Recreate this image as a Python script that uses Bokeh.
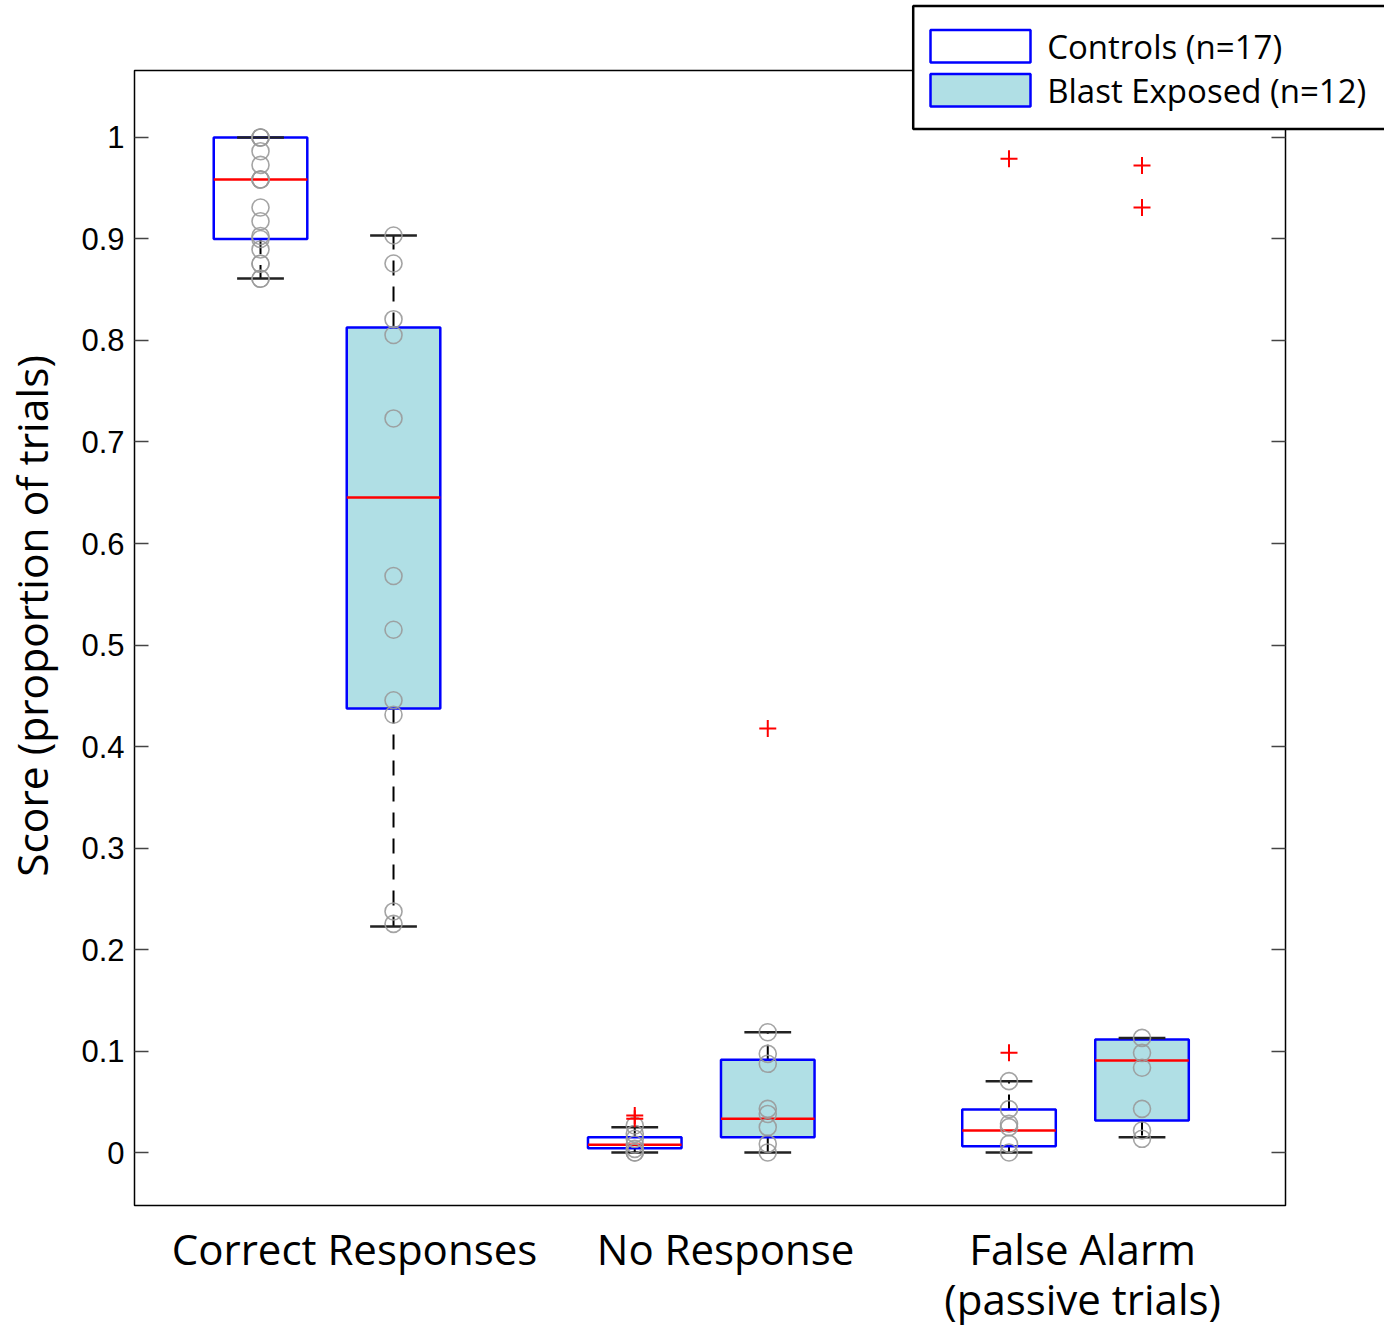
from bokeh.plotting import figure
from bokeh.models import (ColumnDataSource, Range1d, FixedTicker, LinearAxis,
                          CustomLabelingPolicy)
from bokeh.embed import file_html
from bokeh.resources import INLINE
from bokeh.core.properties import value

# ---------------- data ----------------
categories = ["Correct Responses", "No Response", "False Alarm\n(passive trials)"]
groups = ["Controls (n=17)", "Blast Exposed (n=12)"]
y_title = "Score (proportion of trials)"

ctrl_q1 = [0.900, 0.0042, 0.0062]
ctrl_med = [0.9586, 0.0076, 0.0217]
ctrl_q3 = [1.000, 0.0151, 0.0424]
ctrl_lo = [0.861, 0.0, 0.0]
ctrl_hi = [1.000, 0.0249, 0.0703]

blast_q1 = [0.4374, 0.0151, 0.0315]
blast_med = [0.6453, 0.0332, 0.0906]
blast_q3 = [0.8128, 0.0913, 0.1113]
blast_lo = [0.2227, 0.0, 0.0151]
blast_hi = [0.9034, 0.1185, 0.1129]

ctrl_pts_cr = [1.0, 1.0, 1.0, 0.9865, 0.973, 0.9586, 0.9586, 0.9586, 0.931,
               0.9175, 0.903, 0.900, 0.8897, 0.8756, 0.8756, 0.8608, 0.8608]
ctrl_pts_nr = [0.0266, 0.0184, 0.0135, 0.0079, 0.0036, 0.0, 0.0]
ctrl_pts_fa = [0.0703, 0.0427, 0.0283, 0.025, 0.0085, 0.0]

blast_pts_cr = [0.9034, 0.8759, 0.821, 0.8054, 0.7232, 0.568, 0.515, 0.4456,
                0.4313, 0.2375, 0.2253]
blast_pts_nr = [0.1185, 0.0972, 0.0874, 0.043, 0.038, 0.025, 0.0085, 0.0]
blast_pts_fa = [0.1129, 0.0982, 0.0835, 0.043, 0.0217, 0.0135]

ctrl_out_cat = [1, 1, 2, 2]
ctrl_out_val = [0.0364, 0.0332, 0.0982, 0.979]
blast_out_cat = [1, 2, 2]
blast_out_val = [0.4177, 0.9724, 0.931]

y_ticks = [0, 0.1, 0.2, 0.3, 0.4, 0.5, 0.6, 0.7, 0.8, 0.9, 1]

# ---------------- layout constants ----------------
group_x = [1.0, 2.0, 3.0]
label_x = [1.0735, 2.065, 3.019]
offset = 0.1777
box_w = 0.25
cap_w = 0.125

BLUE = "#0000FF"
FILL = "#B0DFE5"
FONT = "Open Sans"

p = figure(width=1384, height=1330, output_backend="svg", toolbar_location=None,
           x_range=Range1d(0.4856, 3.5611), y_range=Range1d(-0.0522, 1.066),
           min_border_left=134, min_border_right=99, min_border_top=70,
           min_border_bottom=125)
p.xgrid.visible = False
p.ygrid.visible = False
p.outline_line_color = "black"
p.outline_line_width = 1.5
p.background_fill_color = "white"
p.border_fill_color = "white"


def draw_group(sign, q1, med, q3, lo, hi, pts_lists, out_cat, out_val, fill):
    xs = [g + sign * offset for g in group_x]
    src = ColumnDataSource(dict(
        x=xs,
        left=[x - box_w / 2 for x in xs], right=[x + box_w / 2 for x in xs],
        cl=[x - cap_w / 2 for x in xs], cr=[x + cap_w / 2 for x in xs],
        q1=q1, med=med, q3=q3, lo=lo, hi=hi))
    # whiskers
    p.segment(x0="x", y0="q3", x1="x", y1="hi", source=src, line_color="black",
              line_width=2, line_dash="15 11")
    p.segment(x0="x", y0="q1", x1="x", y1="lo", source=src, line_color="black",
              line_width=2, line_dash="15 11")
    # boxes
    p.quad(left="left", right="right", bottom="q1", top="q3", source=src,
           fill_color=fill, line_color=BLUE, line_width=2.5)
    # medians
    p.segment(x0="left", y0="med", x1="right", y1="med", source=src,
              line_color="red", line_width=2.5)
    # caps
    p.segment(x0="cl", y0="hi", x1="cr", y1="hi", source=src, line_color="#222222",
              line_width=2.5)
    p.segment(x0="cl", y0="lo", x1="cr", y1="lo", source=src, line_color="#222222",
              line_width=2.5)
    # individual points
    px, py = [], []
    for x, vals in zip(xs, pts_lists):
        px += [x] * len(vals)
        py += vals
    p.scatter(px, py, marker="circle", size=17, fill_color=None,
              line_color="#9A9A9A", line_width=1.6, line_alpha=0.9)
    # outliers
    ox = [xs[c] for c in out_cat]
    p.scatter(ox, out_val, marker="cross", size=17, line_color="red", line_width=2)


draw_group(-1, ctrl_q1, ctrl_med, ctrl_q3, ctrl_lo, ctrl_hi,
           [ctrl_pts_cr, ctrl_pts_nr, ctrl_pts_fa], ctrl_out_cat, ctrl_out_val, "white")
draw_group(1, blast_q1, blast_med, blast_q3, blast_lo, blast_hi,
           [blast_pts_cr, blast_pts_nr, blast_pts_fa], blast_out_cat, blast_out_val, FILL)

# ---------------- axes ----------------
yax = p.yaxis[0]
yax.ticker = FixedTicker(ticks=y_ticks)
yax.major_label_overrides = {0: "0", 1: "1"}
yax.major_tick_in = 14
yax.major_tick_out = 0
yax.minor_tick_line_color = None
yax.major_tick_line_color = "#444444"
yax.major_tick_line_width = 1.5
yax.axis_line_color = None
yax.major_label_standoff = 10
yax.major_label_text_font = "Liberation Sans"
yax.major_label_text_font_size = "31px"
yax.major_label_text_color = "black"
yax.axis_label = "\u00a0\u00a0\u00a0\u00a0" + y_title
yax.axis_label_text_font = FONT
yax.axis_label_text_font_size = "42.5px"
yax.axis_label_text_font_style = "normal"
yax.axis_label_text_color = "black"
yax.axis_label_standoff = 18

rax = LinearAxis(ticker=FixedTicker(ticks=y_ticks))
rax.major_tick_in = 14
rax.major_tick_out = 0
rax.minor_tick_line_color = None
rax.major_tick_line_color = "#444444"
rax.major_tick_line_width = 1.5
rax.axis_line_color = None
rax.major_label_policy = CustomLabelingPolicy(code="return new Set()")
p.add_layout(rax, "right")

xax = p.xaxis[0]
xax.ticker = FixedTicker(ticks=label_x)
xax.major_label_overrides = {lx: c for lx, c in zip(label_x, categories)}
xax.major_tick_line_color = None
xax.minor_tick_line_color = None
xax.axis_line_color = None
xax.major_label_standoff = 8
xax.major_label_text_font = FONT
xax.major_label_text_font_size = "42px"
xax.major_label_text_line_height = 0.88
xax.major_label_text_color = "black"

# ---------------- legend (overlay figure; overlaps the frame edge like the original) ----------------
LEG_LEFT, LEG_W, LEG_H = 905, 479, 135
leg = figure(width=LEG_W, height=LEG_H, output_backend="svg", toolbar_location=None,
             x_range=Range1d(0, LEG_W), y_range=Range1d(LEG_H, 0),
             x_axis_location=None, y_axis_location=None, min_border=0,
             styles={"position": "absolute", "left": f"{LEG_LEFT}px", "top": "0px"})
leg.grid.visible = False
leg.outline_line_color = None
leg.background_fill_alpha = 0
leg.border_fill_alpha = 0

# legend frame, swatches and labels (in the overlay's pixel space)
frame_l, frame_r, frame_t, frame_b = 7.7, LEG_W + 20, 5.5, 128.5
sw_l, sw_w, sw_h = 25, 100, 32.5
row_top = [29.5, 73.5]
text_x = 141.7
text_mid = [45.5, 89.5]

leg.quad(left=[frame_l], right=[frame_r], top=[frame_t], bottom=[frame_b],
         fill_color="white", line_color="black", line_width=2.5)
leg.quad(left=[sw_l] * 2, right=[sw_l + sw_w] * 2, top=row_top,
         bottom=[t + sw_h for t in row_top], fill_color=["white", FILL],
         line_color=BLUE, line_width=2.5)
leg.text(x=[text_x] * 2, y=text_mid, text=groups, text_font=value(FONT),
         text_font_size="33px", text_color="black", text_baseline="middle",
         text_align="left")

open("out.html", "w").write(file_html([p, leg], INLINE))
